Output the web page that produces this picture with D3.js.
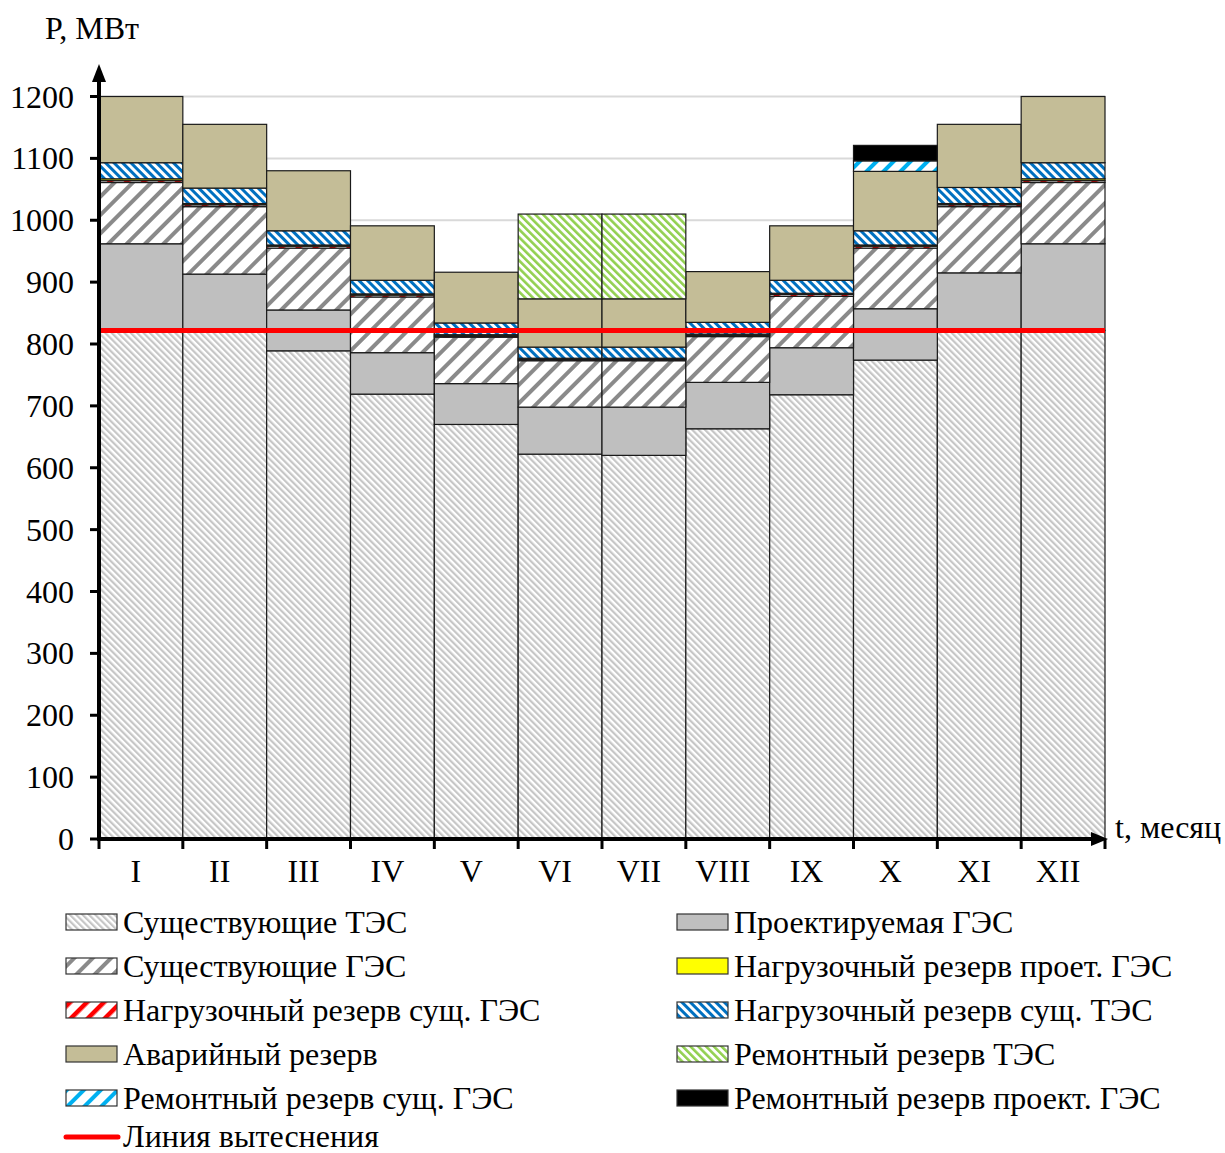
<!DOCTYPE html>
<html>
<head>
<meta charset="utf-8">
<script src="https://cdn.jsdelivr.net/npm/d3@7"></script>
<style>
  body { margin: 0; background: #fff; }
  svg text { font-family: "Liberation Serif", "Times New Roman", serif; fill: #000; }
</style>
</head>
<body>
<svg id="chart" width="1225" height="1153"></svg>
<script>
// Months
const months = ["I", "II", "III", "IV", "V", "VI", "VII", "VIII", "IX", "X", "XI", "XII"];

// Series values, MW (bottom to top of each stack)
const tesExisting   = [822, 822, 789, 719, 670, 622, 620, 663, 718, 774, 822, 822];
const gesProjected  = [140, 91, 66, 67, 66, 76, 78, 75, 76, 83, 93, 140];
const gesExisting   = [99, 109, 100, 90, 75, 75, 75, 74, 83, 98, 107, 99];
const loadResGesEx  = [3, 3, 3, 3, 2, 2, 2, 2, 3, 3, 3, 3];
const loadResGesPr  = [3, 2, 2, 2, 2, 2, 2, 2, 2, 2, 2, 3];
const loadResTes    = [26, 25, 23, 22, 19, 18, 18, 19, 21, 23, 26, 26];
const emergencyRes  = [107, 103, 97, 88, 82, 78, 78, 82, 88, 96, 102, 107];
const repairResTes  = [0, 0, 0, 0, 0, 137, 137, 0, 0, 0, 0, 0];
const repairResGesEx = [0, 0, 0, 0, 0, 0, 0, 0, 0, 17, 0, 0];
const repairResGesPr = [0, 0, 0, 0, 0, 0, 0, 0, 0, 25, 0, 0];

const displacementLine = 822;
const yTicks = [0, 100, 200, 300, 400, 500, 600, 700, 800, 900, 1000, 1100, 1200];

const series = [
  { key: "tes", name: "Существующие ТЭС", values: tesExisting, fill: "url(#p-tes)" },
  { key: "gesPr", name: "Проектируемая ГЭС", values: gesProjected, fill: "#bfbfbf" },
  { key: "gesEx", name: "Существующие ГЭС", values: gesExisting, fill: "url(#p-gesex)" },
  { key: "lrGesEx", name: "Нагрузочный резерв сущ. ГЭС", values: loadResGesEx, fill: "url(#p-red)" },
  { key: "lrGesPr", name: "Нагрузочный резерв проет. ГЭС", values: loadResGesPr, fill: "#ffff00" },
  { key: "lrTes", name: "Нагрузочный резерв сущ. ТЭС", values: loadResTes, fill: "url(#p-blue)" },
  { key: "emerg", name: "Аварийный резерв", values: emergencyRes, fill: "#c4bd97" },
  { key: "rrTes", name: "Ремонтный резерв ТЭС", values: repairResTes, fill: "url(#p-green)" },
  { key: "rrGesEx", name: "Ремонтный резерв сущ. ГЭС", values: repairResGesEx, fill: "url(#p-cyan)" },
  { key: "rrGesPr", name: "Ремонтный резерв проект. ГЭС", values: repairResGesPr, fill: "#000000" }
];

const svg = d3.select("#chart");
const plotLeft = 99, plotRight = 1105, plotBottom = 839, plotTop = 96.5;
const fontSize = "32px";

const x = d3.scaleBand().domain(months).range([plotLeft, plotRight]).padding(0);
const y = d3.scaleLinear().domain([0, 1200]).range([plotBottom, plotTop]);

// Patterns
const defs = svg.append("defs");
function stripes(id, color, period, width, angle) {
  const p = defs.append("pattern")
    .attr("id", id)
    .attr("patternUnits", "userSpaceOnUse")
    .attr("width", period).attr("height", period)
    .attr("patternTransform", `rotate(${angle})`);
  p.append("rect").attr("width", period).attr("height", period).attr("fill", "#fff");
  p.append("rect").attr("width", width).attr("height", period).attr("fill", color);
}
stripes("p-tes", "#c6c6c6", 4.5, 2.2, -45);
stripes("p-gesex", "#8a8a8a", 13, 4, 45);
stripes("p-red", "#ff0000", 12, 4.5, 45);
stripes("p-blue", "#0070c0", 6, 3, -45);
stripes("p-green", "#92d050", 5.5, 2.6, -45);
stripes("p-cyan", "#00b0f0", 12, 4, 45);

// Gridlines
svg.append("g").selectAll("line")
  .data(yTicks.filter(d => d > 0))
  .enter().append("line")
  .attr("x1", plotLeft).attr("x2", plotRight)
  .attr("y1", d => y(d)).attr("y2", d => y(d))
  .attr("stroke", "#d9d9d9").attr("stroke-width", 2);

// Stacked bars
const table = months.map((m, i) => {
  const row = { month: m };
  series.forEach(s => { row[s.key] = s.values[i]; });
  return row;
});
const stack = d3.stack().keys(series.map(s => s.key))(table);

const gBars = svg.append("g");
stack.forEach((layer, li) => {
  gBars.append("g").selectAll("rect")
    .data(layer.filter(d => d[1] - d[0] > 0))
    .enter().append("rect")
    .attr("x", d => x(d.data.month))
    .attr("width", x.bandwidth())
    .attr("y", d => y(d[1]))
    .attr("height", d => y(d[0]) - y(d[1]))
    .attr("fill", series[li].fill)
    .attr("stroke", "#1a1a1a")
    .attr("stroke-width", 1.2);
});

// Displacement line
svg.append("line")
  .attr("x1", plotLeft).attr("x2", plotRight)
  .attr("y1", y(displacementLine)).attr("y2", y(displacementLine))
  .attr("stroke", "#ff0000").attr("stroke-width", 5);

// Axes
const gAxis = svg.append("g");
gAxis.append("line")
  .attr("x1", plotLeft).attr("x2", plotLeft).attr("y1", plotBottom + 2).attr("y2", 76)
  .attr("stroke", "#000").attr("stroke-width", 4);
gAxis.append("path")
  .attr("d", `M${plotLeft},64 L${plotLeft - 7},82 L${plotLeft + 7},82 Z`).attr("fill", "#000");
gAxis.append("line")
  .attr("x1", plotLeft - 2).attr("x2", plotRight - 6).attr("y1", plotBottom).attr("y2", plotBottom)
  .attr("stroke", "#000").attr("stroke-width", 4);
gAxis.append("path")
  .attr("d", `M${plotRight + 3},${plotBottom} L${plotRight - 14},${plotBottom - 7} L${plotRight - 14},${plotBottom + 7} Z`).attr("fill", "#000");

// Y ticks and labels
gAxis.selectAll(".ytick")
  .data(yTicks)
  .enter().append("line")
  .attr("x1", plotLeft - 9).attr("x2", plotLeft)
  .attr("y1", d => y(d)).attr("y2", d => y(d))
  .attr("stroke", "#000").attr("stroke-width", 3);
gAxis.selectAll(".ylab")
  .data(yTicks)
  .enter().append("text")
  .attr("x", 74).attr("y", d => y(d) + 11)
  .attr("text-anchor", "end")
  .style("font-size", fontSize)
  .text(d => d);

// X ticks at band edges and labels
const edges = months.map(m => x(m)).concat([plotRight]);
gAxis.selectAll(".xtick")
  .data(edges)
  .enter().append("line")
  .attr("x1", d => d).attr("x2", d => d)
  .attr("y1", plotBottom).attr("y2", plotBottom + 10)
  .attr("stroke", "#000").attr("stroke-width", 3);
gAxis.selectAll(".xlab")
  .data(months)
  .enter().append("text")
  .attr("x", d => x(d) + x.bandwidth() / 2 - 5)
  .attr("y", 882)
  .attr("text-anchor", "middle")
  .style("font-size", fontSize)
  .text(d => d);

// Axis titles
svg.append("text").attr("x", 45).attr("y", 39).style("font-size", fontSize).text("P, МВт");
svg.append("text").attr("x", 1115).attr("y", 838).style("font-size", fontSize).text("t, месяц");

// Legend
const legendItems = [
  { s: series[0], col: 0, row: 0 }, { s: series[1], col: 1, row: 0 },
  { s: series[2], col: 0, row: 1 }, { s: series[4], col: 1, row: 1 },
  { s: series[3], col: 0, row: 2 }, { s: series[5], col: 1, row: 2 },
  { s: series[6], col: 0, row: 3 }, { s: series[7], col: 1, row: 3 },
  { s: series[8], col: 0, row: 4 }, { s: series[9], col: 1, row: 4 }
];
const colX = [66, 677];
const rowY = d3.range(6).map(i => 922 + i * 44);
const gLeg = svg.append("g");
legendItems.forEach(it => {
  const lx = colX[it.col], ly = rowY[it.row];
  gLeg.append("rect")
    .attr("x", lx).attr("y", ly - 8).attr("width", 51).attr("height", 16)
    .attr("fill", it.s.fill).attr("stroke", "#333").attr("stroke-width", 1.2);
  gLeg.append("text")
    .attr("x", lx + 57).attr("y", ly + 11)
    .style("font-size", fontSize)
    .text(it.s.name);
});
const lastY = rowY[5] - 5;
gLeg.append("line")
  .attr("x1", 66).attr("x2", 118).attr("y1", lastY).attr("y2", lastY)
  .attr("stroke", "#ff0000").attr("stroke-width", 5).attr("stroke-linecap", "round");
gLeg.append("text")
  .attr("x", 123).attr("y", lastY + 10)
  .style("font-size", fontSize)
  .text("Линия вытеснения");
</script>
</body>
</html>
